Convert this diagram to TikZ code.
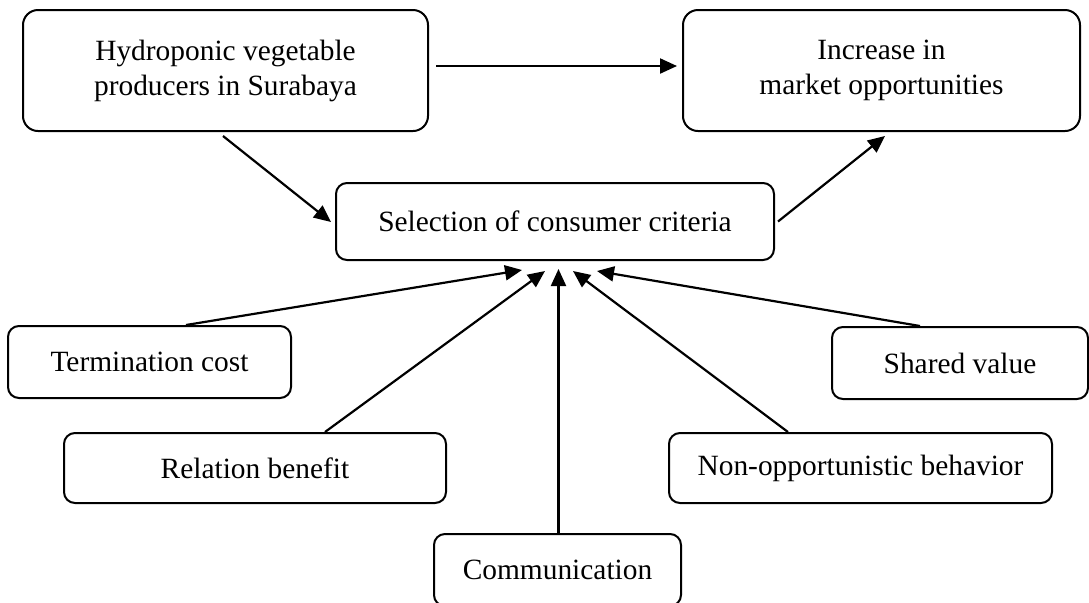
\documentclass[tikz,border=0pt]{standalone}
\usepackage{fontspec}
\setmainfont{Liberation Serif}
\usepackage{tikz}
\usetikzlibrary{arrows.meta}

\begin{document}
\begin{tikzpicture}[
  x=0.5pt, y=-0.5pt,
  bigbox/.style={draw, rounded corners=7.5pt, line width=1pt, inner sep=0pt,
                 align=center, font=\fontsize{14.7}{17.5}\selectfont},
  smallbox/.style={draw, rounded corners=5.5pt, line width=1pt, inner sep=0pt,
                   align=center, font=\fontsize{14.7}{17.5}\selectfont},
  arr/.style={-{Triangle[length=8.5pt, width=7.5pt]}, line width=1.1pt}
]
\useasboundingbox (0,0) rectangle (1089,602);

%% Top row
\node[bigbox, minimum width=202.5pt, minimum height=60.5pt] (hydro) at (225.5, 70.5)
  {Hydroponic vegetable\\producers in Surabaya};
\node[bigbox, minimum width=198.5pt, minimum height=60.5pt] (incr) at (881.5, 70.5)
  {Increase in\\market opportunities};

%% Centre
\node[smallbox, minimum width=219pt, minimum height=38.5pt] (sel) at (555, 221.5)
  {Selection of consumer criteria};

%% Factors
\node[smallbox, minimum width=141.5pt, minimum height=36pt] (term)   at (149.5, 362) {Termination cost};
\node[smallbox, minimum width=191pt,   minimum height=35pt] (rel)    at (255, 468)   {Relation benefit};
\node[smallbox, minimum width=123.5pt, minimum height=36pt] (comm)   at (557.5, 570) {Communication};
\node[smallbox, minimum width=191.5pt, minimum height=35pt] (nonopp) at (860.5, 468) {Non-opportunistic behavior};
\node[smallbox, minimum width=128pt,   minimum height=36pt] (shared) at (960, 363)   {Shared value};

%% Top arrows
\draw[arr] ([shift={(7,-4.5)}]hydro.east) -- ([shift={(-5,-4.5)}]incr.west);
\draw[arr] ([shift={(-2.5,4)}]hydro.south) -- ([shift={(-4,0.5)}]sel.west);
\draw[arr] ([shift={(3,0)}]sel.east) -- ([shift={(3.5,4)}]incr.south);

%% Factor arrows
\draw[arr] ([shift={(36.5,0)}]term.north)   -- ([shift={(-33,9)}]sel.south);
\draw[arr] ([shift={(70,0)}]rel.north)      -- ([shift={(-10,10)}]sel.south);
\draw[arr] ([shift={(1,0)}]comm.north)      -- ([shift={(3.5,8)}]sel.south);
\draw[arr] ([shift={(-72.5,0)}]nonopp.north) -- ([shift={(18,10)}]sel.south);
\draw[arr] ([shift={(-40,0)}]shared.north)  -- ([shift={(42,10)}]sel.south);

\end{tikzpicture}
\end{document}
